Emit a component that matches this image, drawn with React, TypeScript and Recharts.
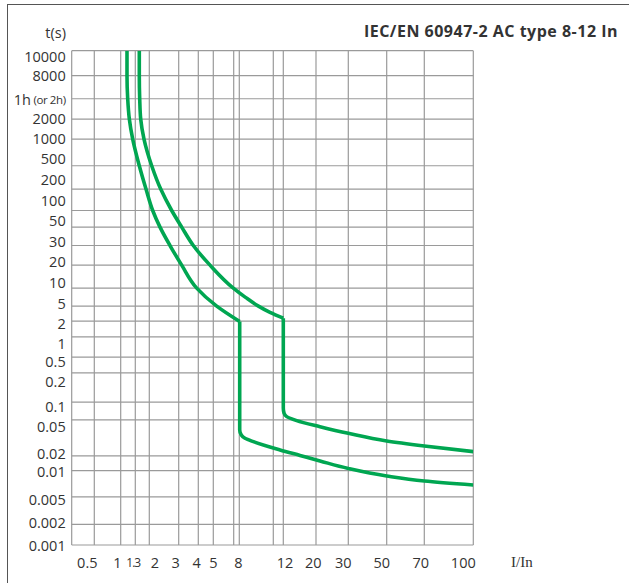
import { LineChart, Line, XAxis, YAxis, ReferenceLine } from 'recharts'

// The printed scales are not true log scales: labels and grid lines sit at
// irregular places. Everything below is a position along those printed scales,
// u = across from the left border, v = up from the bottom border.
const X_MAX = 401.6
const Y_MAX = 494

const xTickLabels = ['0.5', '1', '1.3', '2', '3', '4', '5', '8', '12', '20', '30', '50', '70', '100']
const xTickPos = [15.6, 45.6, 61.6, 83.3, 104, 125, 141.6, 166.6, 213.3, 241.6, 271.6, 310, 349, 391.6]

const yTickLabels = [
  '10000', '8000', '1h (or 2h)', '2000', '1000', '500', '200', '100', '50', '30', '20', '10',
  '5', '2', '1', '0.5', '0.2', '0.1', '0.05', '0.02', '0.01', '0.005', '0.002', '0.001',
]
const yTickPos = [
  488, 469, 446, 426, 406, 386, 365, 344.5, 324, 303.5, 283, 262,
  241.7, 221, 201.5, 183, 163.3, 138, 118.3, 91.5, 73, 45, 22, 0,
]

const xGrid = [0, 22.6, 49, 63.6, 77.6, 107, 126.6, 141.6, 162, 167.6, 201.6, 211.6, 244.3, 276.6, 315, 352.6, 401.6]
const yGrid = [
  0, 20.7, 48, 74.3, 89, 125, 142.7, 172, 187.7, 208, 223.7, 238.7, 256.7, 279.7,
  299.3, 317.7, 334.3, 355.7, 379, 405.7, 425.7, 446, 469, 494,
]

// 8 In curve (lower / left): thermal knee, then magnetic drop and tail
const curve8Knee = [
  { u: 55.3, v: 494 }, { u: 55.3, v: 469 }, { u: 56, v: 446 }, { u: 57.6, v: 426 },
  { u: 61, v: 405.7 }, { u: 67.6, v: 379 }, { u: 74.3, v: 355.7 }, { u: 81, v: 334.3 },
  { u: 88.3, v: 317.7 }, { u: 98.3, v: 299.3 }, { u: 110, v: 279.7 }, { u: 125, v: 256.7 },
  { u: 145, v: 238.7 }, { u: 168, v: 223.3 },
]
const curve8Tail = [
  { u: 168, v: 223.3 }, { u: 168, v: 115 }, { u: 169.6, v: 110 }, { u: 173.3, v: 106.7 },
  { u: 181.6, v: 103.3 }, { u: 208.3, v: 95 }, { u: 228.3, v: 89.5 }, { u: 248.3, v: 84 },
  { u: 276.6, v: 76.5 }, { u: 315, v: 69 }, { u: 352.6, v: 64 }, { u: 401.6, v: 60 },
]

// 12 In curve (upper / right)
const curve12Knee = [
  { u: 67.6, v: 494 }, { u: 67.6, v: 469 }, { u: 68, v: 446 }, { u: 69, v: 425.7 },
  { u: 72.3, v: 405.7 }, { u: 80, v: 379 }, { u: 89, v: 355.7 }, { u: 100, v: 334.3 },
  { u: 110, v: 317.7 }, { u: 121.6, v: 299.3 }, { u: 138.3, v: 279.7 }, { u: 161.6, v: 256.7 },
  { u: 173.8, v: 247.5 }, { u: 186.3, v: 239 }, { u: 198.3, v: 232.5 }, { u: 211.6, v: 226.7 },
]
const curve12Tail = [
  { u: 211.6, v: 226.7 }, { u: 211.6, v: 137 }, { u: 212.3, v: 132 }, { u: 215, v: 128.3 },
  { u: 225, v: 124.3 }, { u: 248.3, v: 118.3 }, { u: 276.6, v: 111.7 }, { u: 315, v: 104 },
  { u: 352.6, v: 99 }, { u: 401.6, v: 93.3 },
]

const GREEN = '#00a651'
const GRID = '#9a9a9a'
const TEXT = '#333'

function XTick(props: any) {
  const { x, y, payload } = props
  const label = xTickLabels[xTickPos.indexOf(payload.value)]
  const small = label === '1.3'
  return (
    <text
      x={x}
      y={y}
      dy={17.5}
      textAnchor="middle"
      dominantBaseline="central"
      fill={TEXT}
      fontSize={small ? 12 : 14.5}
      letterSpacing={small ? -1 : 0}
      fontFamily="Open Sans"
    >
      {label}
    </text>
  )
}

function YTick(props: any) {
  const { x, y, payload } = props
  const label = yTickLabels[yTickPos.indexOf(payload.value)]
  if (label === '1h (or 2h)') {
    return (
      <text x={x - 6} y={y} textAnchor="end" dominantBaseline="central" fill={TEXT} fontFamily="Open Sans">
        <tspan fontSize={14.5}>1h</tspan>
        <tspan fontSize={11.5} letterSpacing={-0.4}> (or 2h)</tspan>
      </text>
    )
  }
  return (
    <text
      x={x - 6}
      y={y}
      textAnchor="end"
      dominantBaseline="central"
      fill={TEXT}
      fontSize={14.5}
      fontFamily="Open Sans"
    >
      {label}
    </text>
  )
}

const curveProps = {
  dataKey: 'v',
  type: 'monotoneY' as const,
  stroke: GREEN,
  strokeWidth: 3.6,
  strokeLinejoin: 'round' as const,
  dot: false,
  activeDot: false,
  isAnimationActive: false,
}

export default function App() {
  return (
    <div
      style={{
        position: 'absolute',
        left: 0,
        top: 0,
        width: 629,
        height: 583,
        background: '#fff',
        fontFamily: 'Open Sans',
        color: TEXT,
        overflow: 'hidden',
      }}
    >
      <div
        style={{
          position: 'absolute',
          left: 6.5,
          top: 3.5,
          right: -2,
          bottom: -2,
          borderTop: '1.5px solid #555',
          borderLeft: '1.5px solid #555',
        }}
      />
      <div
        style={{
          position: 'absolute',
          right: 11,
          top: 20,
          lineHeight: '22px',
          fontSize: 16,
          letterSpacing: 0.5,
          fontWeight: 700,
          whiteSpace: 'nowrap',
        }}
      >
        IEC/EN 60947-2 AC type 8-12 In
      </div>
      <div style={{ position: 'absolute', right: 563, top: 23, lineHeight: '20px', fontSize: 14.5 }}>t(s)</div>
      <div
        style={{
          position: 'absolute',
          left: 511,
          top: 552,
          lineHeight: '20px',
          fontSize: 15,
          fontFamily: 'Liberation Serif',
        }}
      >
        I/In
      </div>
      <div style={{ position: 'absolute', left: 0, top: 0 }}>
        <LineChart width={629} height={583} margin={{ top: 50.7, right: 155.7, bottom: 8, left: 11.7 }}>
          <XAxis
            type="number"
            dataKey="u"
            domain={[0, X_MAX]}
            ticks={xTickPos}
            interval={0}
            allowDataOverflow
            axisLine={false}
            tickLine={false}
            tickSize={0}
            tickMargin={0}
            height={30}
            tick={<XTick />}
          />
          <YAxis
            type="number"
            dataKey="v"
            domain={[0, Y_MAX]}
            ticks={yTickPos}
            interval={0}
            allowDataOverflow
            axisLine={false}
            tickLine={false}
            tickSize={0}
            tickMargin={0}
            width={60}
            tick={<YTick />}
          />
          {xGrid.map((u) => (
            <ReferenceLine key={`gx-${u}`} x={u} stroke={GRID} strokeWidth={1.2} />
          ))}
          {yGrid.map((v) => (
            <ReferenceLine key={`gy-${v}`} y={v} stroke={GRID} strokeWidth={1.2} />
          ))}
          <Line data={curve8Knee} {...curveProps} />
          <Line data={curve8Tail} {...curveProps} />
          <Line data={curve12Knee} {...curveProps} />
          <Line data={curve12Tail} {...curveProps} />
        </LineChart>
      </div>
    </div>
  )
}
